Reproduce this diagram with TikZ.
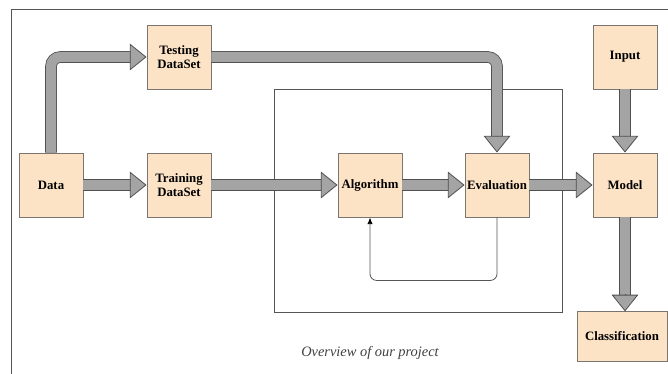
\documentclass[tikz,border=0pt]{standalone}
\usepackage{fontspec}
\setmainfont{Liberation Serif}
\usetikzlibrary{arrows.meta, calc}
\definecolor{boxFill}{HTML}{FDE3C6}
\definecolor{boxLine}{HTML}{7A7570}
\definecolor{pipeFill}{HTML}{A4A4A4}
\definecolor{pipeLine}{HTML}{505050}
\definecolor{frameLine}{HTML}{555555}

\tikzset{
  stage/.style={draw=boxLine, fill=boxFill, line width=0.7pt, align=center,
    minimum width=48pt, minimum height=48pt, inner sep=1pt,
    font=\fontsize{9.6}{11}\selectfont\bfseries},
  pipe/.style={draw=pipeLine, double=pipeFill, double distance=7.5pt,
    line width=0.6pt, rounded corners=7pt, shorten >=12pt},
  pipetip/.style={draw=pipeLine, line width=0.6pt,
    -{Triangle[width=20pt, length=12.5pt, fill=pipeFill]}},
}

\begin{document}
\begin{tikzpicture}[x=0.75pt, y=-0.75pt]
        \useasboundingbox (0,0) rectangle (668,374);
        % frame and loop box
        \draw[frameLine, line width=0.7pt] (11,374) |- (668,9);
        \draw[frameLine, line width=0.6pt] (274,89) rectangle (562,312);

        % stages
        \node[stage] (data)  at (51,185)  {Data};
        \node[stage] (test)  at (179,57)  {Testing\\DataSet};
        \node[stage] (train) at (179,185) {Training\\DataSet};
        \node[stage] (algo)  at (370,185) {Algorithm};
        \node[stage] (eval)  at (497,185) {Evaluation};
        \node[stage] (model) at (625,185) {Model};
        \node[stage] (input) at (625,57)  {Input};
        \node[stage, minimum width=67.5pt, minimum height=37pt] (cls) at (622,336.5) {Classification};

        % block arrows
        \draw[pipe] (data.north) |- (test.west);
        \draw[pipetip] ($(test.west)+(-17,0)$) -- (test.west);
        \draw[pipe] (data.east) -- (train.west);
        \draw[pipetip] ($(train.west)+(-17,0)$) -- (train.west);
        \draw[pipe] (train.east) -- (algo.west);
        \draw[pipetip] ($(algo.west)+(-17,0)$) -- (algo.west);
        \draw[pipe] (algo.east) -- (eval.west);
        \draw[pipetip] ($(eval.west)+(-17,0)$) -- (eval.west);
        \draw[pipe] (eval.east) -- (model.west);
        \draw[pipetip] ($(model.west)+(-17,0)$) -- (model.west);
        \draw[pipe] (test.east) -| (eval.north);
        \draw[pipetip] ($(eval.north)+(0,-17)$) -- (eval.north);
        \draw[pipe] (input.south) -- (model.north);
        \draw[pipetip] ($(model.north)+(0,-17)$) -- (model.north);
        \draw[pipe] (model.south) -- (model.south |- cls.north);
        \draw[pipetip] ($(model.south |- cls.north)+(0,-17)$) -- (model.south |- cls.north);

        % feedback loop
        \draw[frameLine, line width=0.6pt, rounded corners=5pt, -{Latex[length=5pt, width=4pt, color=black]}]
          (eval.south) -- ++(0,63) -| (algo.south);

        \node[font=\fontsize{10.8}{12}\selectfont\itshape, text=black!75] (caption) at (370,353) {Overview of our project};
      \end{tikzpicture}
\end{document}
